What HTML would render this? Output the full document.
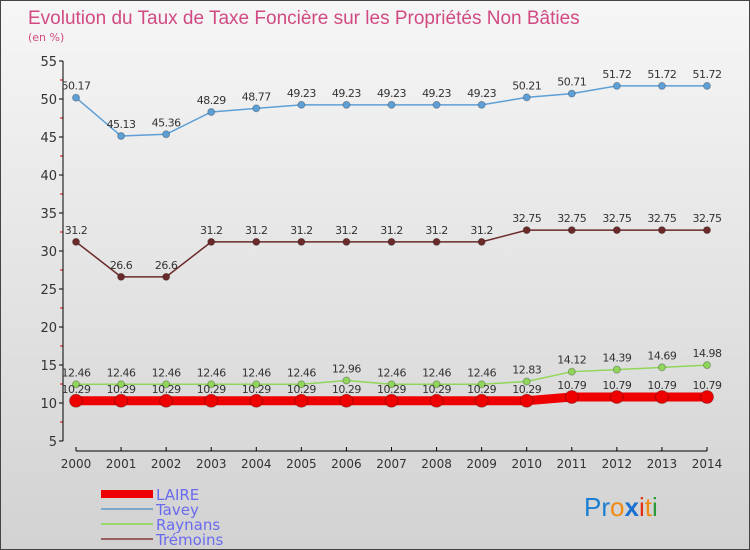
<!DOCTYPE html>
<html><head><meta charset="utf-8"><style>
body{margin:0}
#c{width:750px;height:550px;position:relative;overflow:hidden;background:linear-gradient(#f6f6f6,#d2d2d2);font-family:"DejaVu Sans","Liberation Sans",sans-serif;box-sizing:border-box;border:1px solid #444}
</style></head><body>
<div id="c">
<svg id="s" width="750" height="550" xmlns="http://www.w3.org/2000/svg">
<text x="27" y="23" font-size="19" fill="#d14a82" font-family="Liberation Sans,sans-serif">Evolution du Taux de Taxe Foncière sur les Propriétés Non Bâties</text>
<text x="27" y="40" font-size="11" fill="#d14a82">(en %)</text>
<g id="axes"></g><g id="series"></g>
<g>
<rect x="100" y="489" width="52" height="8" fill="#e00"/>
<text x="155" y="499" font-size="15" fill="#6a6aee">LAIRE</text>
<rect x="100" y="507" width="52" height="2" fill="#7fa8c8"/>
<text x="155" y="514" font-size="15" fill="#6a6aee">Tavey</text>
<rect x="100" y="522" width="52" height="2" fill="#9bd86a"/>
<text x="155" y="529" font-size="15" fill="#6a6aee">Raynans</text>
<rect x="100" y="537" width="52" height="2" fill="#9a6060"/>
<text x="155" y="544" font-size="15" fill="#6a6aee">Trémoins</text>
</g>
<text x="583" y="515" font-size="26" font-family="Liberation Sans,sans-serif"><tspan fill="#1a7fd0">Pr</tspan><tspan fill="#f08a10">o</tspan><tspan fill="#1a6fd0" font-weight="bold">x</tspan><tspan fill="#e03010">i</tspan><tspan fill="#f08a10">t</tspan><tspan fill="#2a9a3a">i</tspan></text>
</svg>
</div>
<script>
const years=["2000","2001","2002","2003","2004","2005","2006","2007","2008","2009","2010","2011","2012","2013","2014"];
const yTicks=[5,10,15,20,25,30,35,40,45,50,55];
const laire=[10.29,10.29,10.29,10.29,10.29,10.29,10.29,10.29,10.29,10.29,10.29,10.79,10.79,10.79,10.79];
const tavey=[50.17,45.13,45.36,48.29,48.77,49.23,49.23,49.23,49.23,49.23,50.21,50.71,51.72,51.72,51.72];
const raynans=[12.46,12.46,12.46,12.46,12.46,12.46,12.96,12.46,12.46,12.46,12.83,14.12,14.39,14.69,14.98];
const tremoins=[31.2,26.6,26.6,31.2,31.2,31.2,31.2,31.2,31.2,31.2,32.75,32.75,32.75,32.75,32.75];
const NS="http://www.w3.org/2000/svg";
const X=i=>75+i*(706-75)/14, Y=v=>402-(v-10)*7.6;
function mk(t,a,p){const e=document.createElementNS(NS,t);for(const k in a)e.setAttribute(k,a[k]);p.appendChild(e);return e;}
const ax=document.getElementById('axes'),se=document.getElementById('series');
yTicks.forEach(v=>{
const t=mk('text',{x:56,y:Y(v)+5,'font-size':13,fill:'#333','text-anchor':'end'},ax);t.textContent=v;

mk('line',{x1:58,x2:62,y1:Y(v),y2:Y(v),stroke:'#000'},ax);
if(v<55)mk('line',{x1:59,x2:62,y1:Y(v+2.5),y2:Y(v+2.5),stroke:'#d00'},ax);});
const ya=mk('line',{x1:62,x2:62,y1:Y(55),y2:Y(5),stroke:'#000'},ax);

const xa=mk('line',{x1:75,x2:706,y1:450,y2:450,stroke:'#000'},ax);

years.forEach((y,i)=>{mk('line',{x1:X(i),x2:X(i),y1:446,y2:450,stroke:'#000'},ax);
const t=mk('text',{x:X(i),y:467,'font-size':12,fill:'#333','text-anchor':'middle'},ax);t.textContent=y;
});
function series(arr,name,col,w,r){const g=mk('g',{},se);

mk('polyline',{points:arr.map((v,i)=>X(i)+','+Y(v)).join(' '),fill:'none',stroke:col,'stroke-width':w},g);
arr.forEach((v,i)=>{const c=mk('circle',{cx:X(i),cy:Y(v),r:r,fill:col,stroke:'rgba(0,0,0,0.25)'},g);

const t=mk('text',{x:X(i),y:Y(v)-8,'font-size':11,fill:'#333','text-anchor':'middle','letter-spacing':'-0.5'},g);t.textContent=v;
});}
series(tavey,'tavey','#5e9fd6',1.5,3.5);
series(tremoins,'tremoins','#6b2a2a',1.5,3.5);
series(raynans,'raynans','#8fd65a',1.5,3.5);
series(laire,'laire','#ee0000',9,6.5);
</script>
</body></html>
